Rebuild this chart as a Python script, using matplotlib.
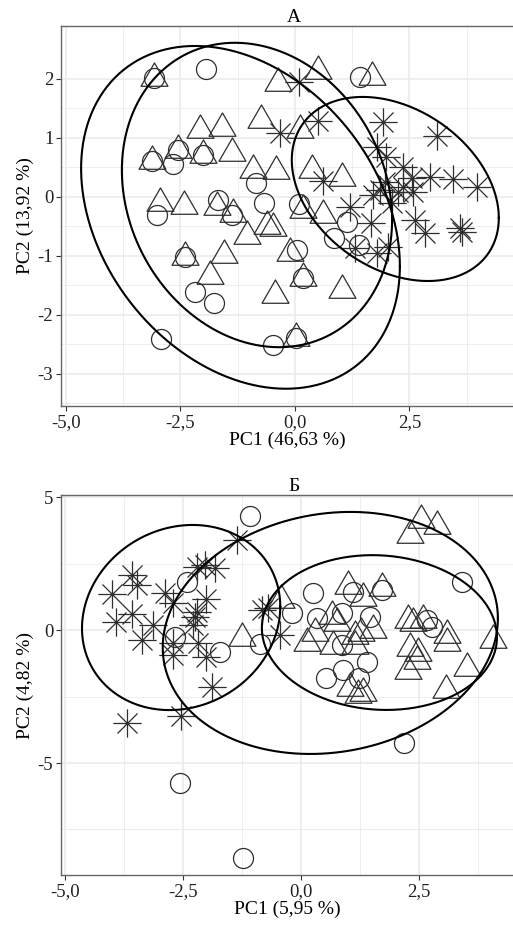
import numpy as np
import matplotlib
matplotlib.use("Agg")
import matplotlib.pyplot as plt
from matplotlib.path import Path

plt.rcParams['font.family'] = ['Liberation Serif', 'DejaVu Serif']

# ---- panel A data (PC1 / PC2) ----
a_circ_x = [-3.08, -1.94, 1.42, -2.55, -3.12, -2.66, -2.01, -0.85, -0.68, -3.01, -1.68, -1.38,
            0.09, -2.40, -2.18, -1.77, 0.04, 0.17, 1.14, 0.85, 1.40, -2.93, -0.48, 0.02]
a_circ_y = [2.02, 2.17, 2.03, 0.80, 0.61, 0.56, 0.71, 0.24, -0.10, -0.31, -0.05, -0.31,
            -0.12, -1.02, -1.61, -1.80, -0.90, -1.37, -0.42, -0.69, -0.81, -2.41, -2.51, -2.39]

a_tri_x = [-3.08, -0.37, 0.50, 1.68, -2.07, -1.59, -0.74, 0.11, -2.55, -3.12, -2.01, -1.38,
           -0.92, -0.41, 0.37, 1.03, -2.95, -2.42, -1.70, -1.35, 0.17, 0.61, -0.61, -0.48,
           -1.05, -2.40, -1.55, -0.11, -1.86, -0.44, 0.17, 1.03, 0.02]
a_tri_y = [2.02, 1.93, 2.14, 2.03, 1.14, 1.17, 1.31, 1.14, 0.80, 0.61, 0.71, 0.75,
           0.46, 0.44, 0.46, 0.32, -0.10, -0.15, -0.17, -0.29, -0.22, -0.31, -0.49, -0.53,
           -0.66, -1.02, -0.98, -0.95, -1.34, -1.66, -1.37, -1.58, -2.39]

a_ast_x = [0.09, -0.33, 0.50, 1.92, 3.10, 1.79, 1.99, 2.36, 2.55, 2.95, 3.45, 3.97, 0.61,
           1.97, 2.36, 2.25, 1.70, 1.20, 2.12, 1.66, 2.62, 2.84, 3.60, 3.65, 1.31, 1.79,
           2.03, 2.58, 1.86]
a_ast_y = [1.95, 1.08, 1.29, 1.27, 1.03, 0.85, 0.68, 0.51, 0.32, 0.34, 0.31, 0.17, 0.27,
           0.25, 0.17, 0.08, 0.03, -0.17, -0.10, -0.44, -0.39, -0.61, -0.53, -0.59, -0.86,
           -0.95, -0.85, 0.08, 0.12]

# ellipses: centre x, centre y, half-width, half-height, correlation
a_ell = [(-1.19, -0.345, 3.48, 2.905, -0.285),
         (-0.83, 0.034, 2.95, 2.58, -0.163),
         (2.19, 0.136, 2.26, 1.56, -0.315)]

# ---- panel B data ----
b_circ_x = [-1.08, -2.42, -2.67, -1.72, -0.87, -2.56, -1.23, 3.41, 1.72, 0.25, 1.10, 0.87,
            1.46, 0.34, -0.19, 2.67, 2.78, 0.87, 1.40, 0.89, 0.53, 1.23, 2.18]
b_circ_y = [4.29, 1.80, -0.26, -0.83, -0.53, -5.75, -8.57, 1.80, 1.50, 1.39, 1.43, 0.64,
            0.49, 0.45, 0.64, 0.38, 0.11, -0.56, -1.20, -1.50, -1.80, -1.80, -4.25]

b_tri_x = [2.54, 2.88, 2.31, 1.00, 1.72, 1.31, -1.25, -0.42, 0.66, 0.76, 1.53, 0.30, 1.14,
           1.27, 2.27, 2.37, 2.58, 3.09, 0.13, 0.68, 1.14, 2.31, 2.48, 3.09, 2.27, 2.46,
           3.52, 3.07, 4.07, 1.04, 1.21, 1.31]
b_tri_y = [4.14, 3.91, 3.57, 1.65, 1.58, 1.20, -0.30, 1.13, 0.53, 0.26, 0.00, -0.11, -0.23,
           -0.11, 0.38, 0.26, 0.38, -0.19, -0.49, -0.60, -0.60, -0.68, -0.86, -0.49, -1.54,
           -1.17, -1.43, -2.26, -0.38, -2.18, -2.44, -2.37]

b_ast_x = [-1.36, -2.20, -2.03, -1.82, -3.58, -3.47, -4.00, -2.88, -2.71, -2.01, -2.20, -2.25,
           -2.29, -3.58, -3.92, -3.14, -0.83, -0.70, -0.44, -3.37, -2.71, -2.71, -2.18, -2.01,
           -1.89, -2.54, -3.69]
b_ast_y = [3.38, 2.37, 2.44, 2.33, 2.07, 1.69, 1.35, 1.39, 1.02, 1.17, 0.68, 0.49,
           0.19, 0.60, 0.30, 0.19, 0.75, 0.83, -0.19, -0.38, -0.49, -0.94, -0.49, -1.02,
           -2.14, -3.23, -3.50]

b_ell = [(0.62, -0.11, 3.55, 4.55, 0.12),
         (1.66, -0.095, 2.49, 2.91, -0.06),
         (-2.54, 0.47, 2.10, 3.48, 0.117)]

x_ticks = [-5.0, -2.5, 0.0, 2.5]
x_labels = ['-5,0', '-2,5', '0,0', '2,5']
a_yticks = [2, 1, 0, -1, -2, -3]
b_yticks = [5, 0, -5]

tri = Path([(0, 1), (-0.866, -0.5), (0.866, -0.5), (0, 1)],
           [Path.MOVETO, Path.LINETO, Path.LINETO, Path.CLOSEPOLY])
d = 0.7071
ast = Path([(-1, 0), (1, 0), (0, -1), (0, 1), (-d, -d), (d, d), (-d, d), (d, -d)],
           [Path.MOVETO, Path.LINETO] * 4)

pt_col = '#2e2e2e'


def ellipse_xy(cx, cy, hx, hy, r):
    t = np.linspace(0, 2 * np.pi, 300)
    cov = np.array([[hx * hx, r * hx * hy], [r * hx * hy, hy * hy]])
    L = np.linalg.cholesky(cov)
    pts = L @ np.vstack([np.cos(t), np.sin(t)])
    return cx + pts[0], cy + pts[1]


def panel(ax, cx, cy, tx, ty, sx, sy, ells, xlim, ylim, yticks, title, xlab, ylab):
    ax.plot(cx, cy, ls='none', marker='o', ms=14.4, mfc='none', mec=pt_col, mew=0.9)
    ax.plot(tx, ty, ls='none', marker=tri, ms=22.4, mfc='none', mec=pt_col, mew=0.9)
    ax.plot(sx, sy, ls='none', marker=ast, ms=20.4, mfc='none', mec=pt_col, mew=0.9)
    for e in ells:
        ex, ey = ellipse_xy(*e)
        ax.plot(ex, ey, color='black', lw=1.5)
    ax.set_xlim(xlim)
    ax.set_ylim(ylim)
    ax.set_xticks(x_ticks, x_labels)
    ax.set_yticks(yticks, [str(v).replace('-', '-') for v in yticks])
    ax.set_xticks([-3.75, -1.25, 1.25, 3.75], minor=True)
    ys = np.diff(yticks)[0]
    ax.set_yticks([v + ys / 2 for v in yticks] + [yticks[-1] - abs(ys) / 2], minor=True)
    ax.grid(which='major', color='#ebebeb', lw=1.2)
    ax.grid(which='minor', color='#ebebeb', lw=0.6)
    ax.set_axisbelow(True)
    ax.tick_params(which='major', length=3.5, width=0.8, color='#333333', labelsize=13.5,
                   pad=2, labelcolor='#222222')
    ax.tick_params(which='minor', length=0)
    for s in ['top', 'left', 'bottom']:
        ax.spines[s].set_color('#666666')
        ax.spines[s].set_linewidth(1.0)
    ax.spines['right'].set_visible(False)
    ax.set_title(title, fontsize=14, x=0.515, pad=3)
    ax.set_xlabel(xlab, fontsize=14, labelpad=1)
    ax.set_ylabel(ylab, fontsize=14, labelpad=3)


fig = plt.figure(figsize=(5.13, 9.26), dpi=100)
ax1 = fig.add_axes([0.1189, 0.5616, 0.8811, 0.4103])
ax2 = fig.add_axes([0.1189, 0.0551, 0.8811, 0.4103])

panel(ax1, a_circ_x, a_circ_y, a_tri_x, a_tri_y, a_ast_x, a_ast_y, a_ell,
      (-5.109, 4.76), (-3.542, 2.898), a_yticks, 'А', 'PC1 (46,63 %)', 'PC2 (13,92 %)')
panel(ax2, b_circ_x, b_circ_y, b_tri_x, b_tri_y, b_ast_x, b_ast_y, b_ell,
      (-5.085, 4.49), (-9.21, 5.075), b_yticks, 'Б', 'PC1 (5,95 %)', 'PC2 (4,82 %)')

fig.savefig('out.png', dpi=100)
